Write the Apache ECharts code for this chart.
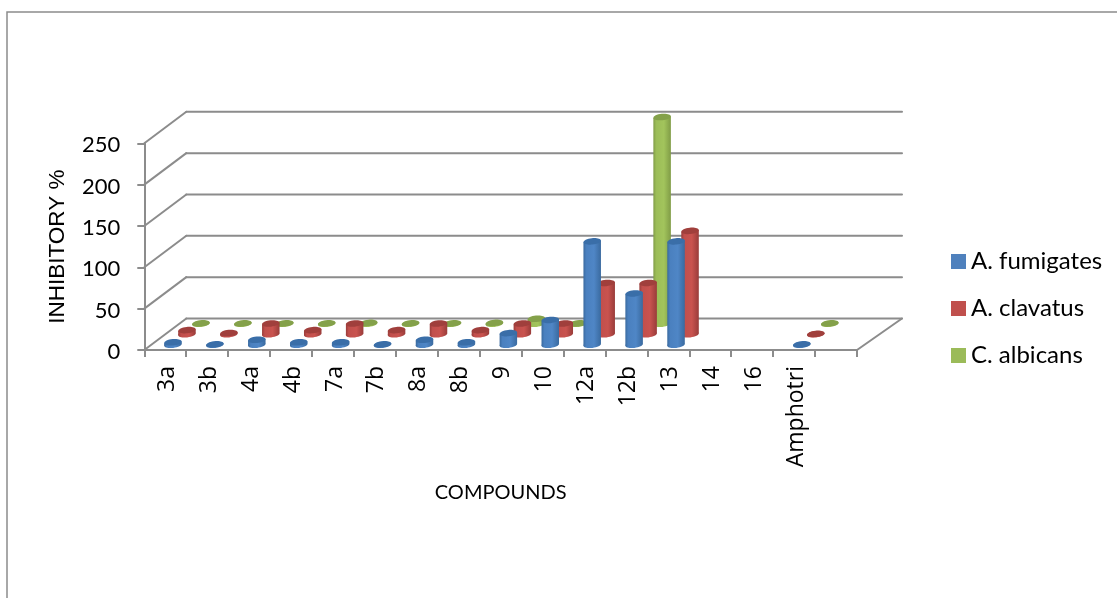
<!DOCTYPE html>
<html>
<head>
<meta charset="utf-8">
<style>html,body{margin:0;padding:0;background:#fff}#chart{width:1117px;height:598px}</style>
<script src="https://cdn.jsdelivr.net/npm/echarts@6/dist/echarts.min.js"></script>
</head>
<body>
<div id="chart"></div>
<script>
// Antifungal inhibition by compound, drawn as a pseudo-3D cylinder chart.
const categories = ['3a','3b','4a','4b','7a','7b','8a','8b','9','10','12a','12b','13','14','16','Amphotri',''];
const fumigates = [3,0.5,6,3,3,0.5,6,3,14,30,125,62,125,null,null,0.5,null];
const clavatus  = [5,1.5,13,5,13,5,13,5,13,13,62,62,125,null,null,0.5,null];
const albicans  = [0.5,0.5,0.5,0.5,1,0.5,0.5,1,6,0.5,null,250,null,null,null,0.5,null];
const wallTicks = [0,50,100,150,200,250];

const GRID = {left:144.3, top:143.3, width:712.7, height:206.7};
const DEPTH = {leftX:42, rightX:45, y:-31.5};
const BAR_RX = 8.8, BAR_RY = 3.2, TILT = 0.1;
const GREY = '#8c8c8c';
const FONT = 'Lato';

const palettes = {
  blue:  {flat:'#4F81BD', top:'#3a6ea8', edge:'#3a6a9f', mid:'#4f86c6', light:'#4a80bf'},
  red:   {flat:'#C0504D', top:'#a03f3c', edge:'#993c3a', mid:'#c9534f', light:'#c14f4c'},
  green: {flat:'#9BBB59', top:'#84a14a', edge:'#809c46', mid:'#a2c45c', light:'#9cbd58'}
};

function toPairs(values){
  return values.map((v,i)=>[i,v]).filter(p=>p[1]!==null);
}

// One cylinder: base disc, shaded body, darker top disc, pushed back by its depth slot.
function cylinderRenderer(slot, pal){
  const fill = new echarts.graphic.LinearGradient(0,0,1,0,[
    {offset:0,color:pal.edge},{offset:0.16,color:pal.light},
    {offset:0.6,color:pal.mid},{offset:1,color:pal.edge}
  ]);
  return function(params, api){
    const base = api.coord([api.value(0),0]);
    const top  = api.coord([api.value(0),api.value(1)]);
    const cx = base[0] + 0.7 + 14*(slot+0.5);
    const yB = base[1] - 10.5*(slot+0.5);
    const yT = top[1]  - 10.5*(slot+0.5);
    const dy = BAR_RX*Math.sin(TILT);
    const dx = BAR_RX*Math.cos(TILT);
    const disc = (y, color)=>({
      type:'ellipse', x:cx, y:y, rotation:TILT,
      shape:{cx:0,cy:0,rx:BAR_RX,ry:BAR_RY}, style:{fill:color}
    });
    return {type:'group',children:[
      disc(yB, fill),
      {type:'polygon',shape:{points:[[cx-dx,yT+dy],[cx+dx,yT-dy],[cx+dx,yB-dy],[cx-dx,yB+dy]]},style:{fill:fill}},
      disc(yT, pal.top)
    ]};
  };
}

// Side wall and back wall lines for one value tick, plus the floor's right edge at zero.
function wallRenderer(params, api){
  const c = params.coordSys;
  const y = api.coord([0,api.value(1)])[1];
  const line = (a,b)=>({type:'line',shape:{x1:a[0],y1:a[1],x2:b[0],y2:b[1]},
    style:{stroke:GREY,lineWidth:2,lineCap:'round'}});
  const corner = [c.x+DEPTH.leftX, y+DEPTH.y];
  const kids = [
    line([c.x,y],corner),
    line(corner,[c.x+c.width+DEPTH.rightX, y+DEPTH.y])
  ];
  if(api.value(1)===0){
    kids.push(line([c.x+c.width,y],[c.x+c.width+DEPTH.rightX,y+DEPTH.y]));
  }
  return {type:'group',children:kids};
}

function barSeries(name, values, slot, pal){
  return {
    name:name, type:'custom', z:10-slot, silent:true,
    itemStyle:{color:pal.flat},
    encode:{x:0,y:1},
    data:toPairs(values),
    renderItem:cylinderRenderer(slot,pal)
  };
}

const chart = echarts.init(document.getElementById('chart'),null,{renderer:'canvas'});
chart.setOption({
  animation:false,
  backgroundColor:'#fff',
  grid:{left:GRID.left,top:GRID.top,width:GRID.width,height:GRID.height,containLabel:false},
  graphic:[
    {type:'polyline',silent:true,shape:{points:[[7,598],[7,12],[1117,12]]},style:{stroke:GREY,lineWidth:1.5,fill:null}}
  ],
  legend:{
    orient:'vertical', left:946, top:244.5, itemWidth:15, itemHeight:15, itemGap:23,
    icon:'rect', selectedMode:false,
    data:['A. fumigates','A. clavatus','C. albicans'],
    textStyle:{fontFamily:FONT,fontSize:24,lineHeight:20,color:'#000'}
  },
  xAxis:{
    type:'category', data:categories,
    name:'COMPOUNDS', nameLocation:'middle', nameGap:133,
    nameTextStyle:{fontFamily:FONT,fontSize:20,color:'#000'},
    axisLine:{lineStyle:{color:GREY,width:2}},
    axisTick:{show:true,alignWithLabel:false,length:7,lineStyle:{color:GREY,width:2}},
    axisLabel:{interval:0,rotate:90,margin:16,fontFamily:'Open Sans',fontSize:23,color:'#000',hideOverlap:false,verticalAlign:'top',lineHeight:4},
    splitLine:{show:false}
  },
  yAxis:{
    type:'value', min:0, max:250, interval:50,
    name:'INHIBITORY %', nameLocation:'middle', nameGap:75, nameRotate:90,
    nameTextStyle:{fontFamily:'Liberation Sans',fontSize:22.5,color:'#000'},
    axisLine:{show:true,lineStyle:{color:GREY,width:2}},
    axisTick:{show:true,length:7,lineStyle:{color:GREY,width:2}},
    axisLabel:{margin:24,fontFamily:FONT,fontSize:22,color:'#000',verticalAlign:'top',lineHeight:4},
    splitLine:{show:false}
  },
  series:[
    {name:'walls',type:'custom',z:1,silent:true,encode:{x:0,y:1},
     data:wallTicks.map(v=>[0,v]),renderItem:wallRenderer},
    barSeries('C. albicans',albicans,2,palettes.green),
    barSeries('A. clavatus',clavatus,1,palettes.red),
    barSeries('A. fumigates',fumigates,0,palettes.blue)
  ]
});
</script>
</body>
</html>
